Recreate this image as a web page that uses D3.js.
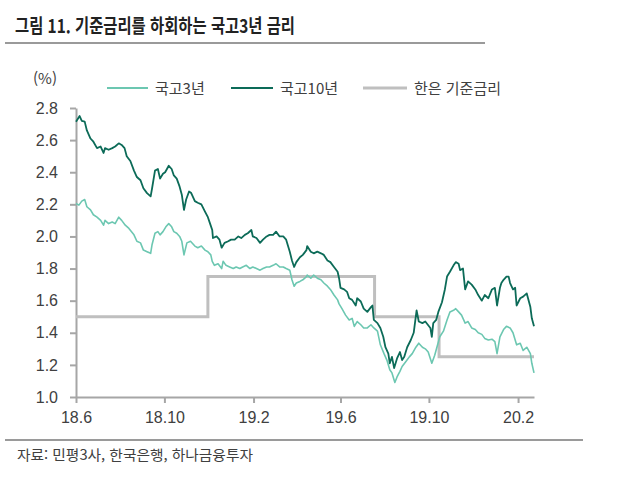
<!DOCTYPE html>
<html lang="ko">
<head>
<meta charset="UTF-8">
<script src="https://d3js.org/d3.v7.min.js"></script>
<style>
body { margin: 0; background: #fff; }
svg { font-family: "Noto Sans CJK KR", "Noto Sans", sans-serif; }
.axis path, .axis line { stroke: #a6a6a6; stroke-width: 2px; }
.axis text { fill: #404040; font-size: 16px; }
</style>
</head>
<body>
<svg width="630" height="477"></svg>
<script>
// 국고3년 (3Y KTB), %
const kt3 = [
  ["2018-06-01",2.205],["2018-06-05",2.195],["2018-06-09",2.22],["2018-06-13",2.23],["2018-06-16",2.185],
  ["2018-06-21",2.165],["2018-06-25",2.135],["2018-06-30",2.12],["2018-07-05",2.10],["2018-07-09",2.07],
  ["2018-07-11",2.10],["2018-07-16",2.08],["2018-07-21",2.09],["2018-07-25",2.08],["2018-07-30",2.12],
  ["2018-08-03",2.10],["2018-08-08",2.07],["2018-08-13",2.05],["2018-08-20",2.01],["2018-08-24",1.97],
  ["2018-08-29",1.96],["2018-09-02",1.915],["2018-09-07",1.905],["2018-09-12",1.895],["2018-09-14",1.95],
  ["2018-09-18",2.02],["2018-09-22",2.03],["2018-09-25",2.01],["2018-09-29",2.03],["2018-10-03",2.06],
  ["2018-10-07",2.08],["2018-10-11",2.06],["2018-10-14",2.03],["2018-10-18",2.02],["2018-10-22",2.00],
  ["2018-10-25",1.97],["2018-10-28",1.885],["2018-11-01",1.96],["2018-11-06",1.97],["2018-11-12",1.94],
  ["2018-11-16",1.93],["2018-11-21",1.94],["2018-11-26",1.915],["2018-11-30",1.905],["2018-12-04",1.885],
  ["2018-12-06",1.845],["2018-12-09",1.82],["2018-12-14",1.83],["2018-12-19",1.80],["2018-12-21",1.845],
  ["2018-12-25",1.82],["2018-12-30",1.81],["2019-01-04",1.80],["2019-01-08",1.81],["2019-01-13",1.80],
  ["2019-01-17",1.81],["2019-01-22",1.82],["2019-01-27",1.80],["2019-01-31",1.81],["2019-02-05",1.80],
  ["2019-02-10",1.79],["2019-02-14",1.80],["2019-02-19",1.81],["2019-02-23",1.81],["2019-02-28",1.82],
  ["2019-03-04",1.83],["2019-03-09",1.81],["2019-03-14",1.81],["2019-03-18",1.80],["2019-03-23",1.79],
  ["2019-03-26",1.73],["2019-03-29",1.69],["2019-04-01",1.71],["2019-04-06",1.72],["2019-04-10",1.73],
  ["2019-04-15",1.75],["2019-04-16",1.76],["2019-04-21",1.74],["2019-04-25",1.76],["2019-04-30",1.74],
  ["2019-05-05",1.73],["2019-05-09",1.71],["2019-05-14",1.69],["2019-05-18",1.67],["2019-05-23",1.635],
  ["2019-05-28",1.605],["2019-05-30",1.58],["2019-06-03",1.55],["2019-06-08",1.51],["2019-06-13",1.48],
  ["2019-06-17",1.49],["2019-06-20",1.44],["2019-06-24",1.47],["2019-06-29",1.45],["2019-07-03",1.43],
  ["2019-07-08",1.43],["2019-07-13",1.45],["2019-07-17",1.43],["2019-07-22",1.41],["2019-07-26",1.325],
  ["2019-07-31",1.27],["2019-08-04",1.23],["2019-08-08",1.17],["2019-08-11",1.15],["2019-08-15",1.09],
  ["2019-08-18",1.125],["2019-08-22",1.16],["2019-08-25",1.19],["2019-08-30",1.22],["2019-09-04",1.25],
  ["2019-09-08",1.27],["2019-09-13",1.31],["2019-09-17",1.335],["2019-09-22",1.31],["2019-09-26",1.30],
  ["2019-09-30",1.28],["2019-10-05",1.21],["2019-10-09",1.26],["2019-10-16",1.375],["2019-10-21",1.41],
  ["2019-10-26",1.48],["2019-10-30",1.53],["2019-11-04",1.54],["2019-11-07",1.55],["2019-11-11",1.53],
  ["2019-11-15",1.51],["2019-11-20",1.46],["2019-11-24",1.47],["2019-11-29",1.43],["2019-12-04",1.42],
  ["2019-12-08",1.40],["2019-12-13",1.39],["2019-12-17",1.365],["2019-12-22",1.355],["2019-12-27",1.36],
  ["2019-12-31",1.345],["2020-01-03",1.27],["2020-01-07",1.375],["2020-01-12",1.42],["2020-01-16",1.44],
  ["2020-01-21",1.43],["2020-01-25",1.40],["2020-01-30",1.325],["2020-02-04",1.335],["2020-02-08",1.29],
  ["2020-02-13",1.31],["2020-02-18",1.27],["2020-02-20",1.21],["2020-02-23",1.15]
];

// 국고10년 (10Y KTB), %
const kt10 = [
  ["2018-06-01",2.715],["2018-06-06",2.75],["2018-06-09",2.72],["2018-06-13",2.715],["2018-06-16",2.66],
  ["2018-06-21",2.61],["2018-06-25",2.59],["2018-06-30",2.55],["2018-07-05",2.56],["2018-07-09",2.52],
  ["2018-07-11",2.55],["2018-07-16",2.54],["2018-07-21",2.55],["2018-07-25",2.56],["2018-07-30",2.58],
  ["2018-08-03",2.57],["2018-08-07",2.55],["2018-08-10",2.50],["2018-08-15",2.47],["2018-08-20",2.41],
  ["2018-08-24",2.37],["2018-08-29",2.35],["2018-09-02",2.30],["2018-09-07",2.27],["2018-09-12",2.25],
  ["2018-09-14",2.30],["2018-09-18",2.41],["2018-09-22",2.42],["2018-09-25",2.36],["2018-09-29",2.39],
  ["2018-10-02",2.40],["2018-10-07",2.44],["2018-10-11",2.42],["2018-10-14",2.38],["2018-10-18",2.36],
  ["2018-10-22",2.31],["2018-10-25",2.26],["2018-10-28",2.165],["2018-10-31",2.23],["2018-11-04",2.28],
  ["2018-11-07",2.27],["2018-11-12",2.22],["2018-11-16",2.21],["2018-11-21",2.20],["2018-11-26",2.155],
  ["2018-11-30",2.12],["2018-12-03",2.08],["2018-12-06",2.04],["2018-12-07",1.99],["2018-12-12",2.00],
  ["2018-12-16",1.98],["2018-12-19",1.93],["2018-12-23",1.96],["2018-12-28",1.97],["2019-01-01",1.98],
  ["2019-01-06",1.98],["2019-01-11",2.00],["2019-01-15",1.99],["2019-01-20",2.01],["2019-01-24",2.02],
  ["2019-01-29",2.04],["2019-01-31",2.00],["2019-02-05",1.99],["2019-02-10",1.96],["2019-02-14",1.98],
  ["2019-02-19",2.00],["2019-02-23",2.01],["2019-02-28",2.01],["2019-03-04",2.03],["2019-03-09",2.00],
  ["2019-03-14",2.00],["2019-03-18",1.98],["2019-03-23",1.905],["2019-03-26",1.85],["2019-03-29",1.81],
  ["2019-04-01",1.84],["2019-04-06",1.87],["2019-04-10",1.885],["2019-04-15",1.915],["2019-04-16",1.94],
  ["2019-04-21",1.905],["2019-04-25",1.895],["2019-04-30",1.905],["2019-05-05",1.895],["2019-05-09",1.885],
  ["2019-05-14",1.85],["2019-05-18",1.84],["2019-05-23",1.81],["2019-05-28",1.78],["2019-05-30",1.74],
  ["2019-06-01",1.68],["2019-06-06",1.67],["2019-06-10",1.655],["2019-06-13",1.615],["2019-06-17",1.605],
  ["2019-06-22",1.57],["2019-06-24",1.615],["2019-06-29",1.595],["2019-07-03",1.55],["2019-07-08",1.53],
  ["2019-07-13",1.56],["2019-07-15",1.57],["2019-07-17",1.48],["2019-07-22",1.46],["2019-07-26",1.43],
  ["2019-07-30",1.375],["2019-08-02",1.31],["2019-08-06",1.27],["2019-08-08",1.21],["2019-08-11",1.25],
  ["2019-08-14",1.18],["2019-08-18",1.24],["2019-08-22",1.28],["2019-08-25",1.23],["2019-08-28",1.25],
  ["2019-09-01",1.31],["2019-09-06",1.355],["2019-09-10",1.40],["2019-09-14",1.54],["2019-09-17",1.47],
  ["2019-09-22",1.46],["2019-09-26",1.47],["2019-10-03",1.43],["2019-10-05",1.375],["2019-10-07",1.46],
  ["2019-10-11",1.48],["2019-10-14",1.53],["2019-10-19",1.59],["2019-10-23",1.67],["2019-10-26",1.75],
  ["2019-10-30",1.78],["2019-11-04",1.82],["2019-11-07",1.84],["2019-11-11",1.83],["2019-11-13",1.79],
  ["2019-11-17",1.80],["2019-11-20",1.67],["2019-11-24",1.72],["2019-11-29",1.70],["2019-12-04",1.67],
  ["2019-12-08",1.635],["2019-12-13",1.60],["2019-12-17",1.635],["2019-12-22",1.615],["2019-12-27",1.67],
  ["2019-12-31",1.68],["2020-01-03",1.57],["2020-01-07",1.68],["2020-01-09",1.71],["2020-01-12",1.73],
  ["2020-01-16",1.75],["2020-01-19",1.75],["2020-01-21",1.71],["2020-01-25",1.67],["2020-01-28",1.68],
  ["2020-01-30",1.57],["2020-02-04",1.615],["2020-02-08",1.625],["2020-02-13",1.645],["2020-02-18",1.56],
  ["2020-02-20",1.49],["2020-02-23",1.44]
];

// 한은 기준금리 (BOK base rate), step changes
const baseRate = [
  ["2018-06-01",1.50],["2018-11-30",1.75],["2019-07-18",1.50],["2019-10-15",1.25],["2020-02-23",1.25]
];

const yTicks = [1.0, 1.2, 1.4, 1.6, 1.8, 2.0, 2.2, 2.4, 2.6, 2.8];
const xTicks = ["2018-06-01","2018-10-01","2019-02-01","2019-06-01","2019-10-01","2020-02-01"];
const legendNames = ["국고3년", "국고10년", "한은 기준금리"];

const parse = d3.timeParse("%Y-%m-%d");
const svg = d3.select("svg");

const x = d3.scaleTime()
  .domain([parse("2018-06-01"), parse("2020-02-23")])
  .range([76, 534]);
const y = d3.scaleLinear().domain([1.0, 2.8]).range([397, 108]);

// title + rules
svg.append("text")
  .attr("x", 15).attr("y", 33)
  .attr("textLength", 280).attr("lengthAdjust", "spacingAndGlyphs")
  .style("font-size", "19px").style("font-weight", "bold").style("fill", "#222")
  .text("그림 11. 기준금리를 하회하는 국고3년 금리");
svg.append("line").attr("x1", 5).attr("x2", 485).attr("y1", 43).attr("y2", 43)
  .attr("stroke", "#9a9a9a").attr("stroke-width", 2);
svg.append("line").attr("x1", 5).attr("x2", 583).attr("y1", 440).attr("y2", 440)
  .attr("stroke", "#9a9a9a").attr("stroke-width", 2);
svg.append("text")
  .attr("x", 17).attr("y", 460)
  .attr("textLength", 236).attr("lengthAdjust", "spacingAndGlyphs")
  .style("font-size", "14px").style("fill", "#404040")
  .text("자료: 민평3사, 한국은행, 하나금융투자");

svg.append("text").attr("x", 33).attr("y", 84)
  .style("font-size", "15px").style("fill", "#404040").text("(%)");

// axes
svg.append("g").attr("class", "axis")
  .attr("transform", "translate(76,0)")
  .call(d3.axisLeft(y).tickValues(yTicks).tickFormat(d3.format(".1f"))
    .tickSize(6).tickSizeOuter(0).tickPadding(12));

svg.append("g").attr("class", "axis")
  .attr("transform", "translate(0,397)")
  .call(d3.axisBottom(x).tickValues(xTicks.map(parse))
    .tickFormat(d => `${d.getFullYear() % 100}.${d.getMonth() + 1}`)
    .tickSize(6).tickSizeOuter(0).tickPadding(9));

// lines
const line = d3.line().x(d => x(parse(d[0]))).y(d => y(d[1]));
const stepLine = d3.line().x(d => x(parse(d[0]))).y(d => y(d[1])).curve(d3.curveStepAfter);

svg.append("path").datum(baseRate).attr("d", stepLine)
  .attr("fill", "none").attr("stroke", "#bfbfbf").attr("stroke-width", 3);
svg.append("path").datum(kt3).attr("d", line)
  .attr("fill", "none").attr("stroke", "#6cc7b1").attr("stroke-width", 1.6)
  .attr("stroke-linejoin", "round");
svg.append("path").datum(kt10).attr("d", line)
  .attr("fill", "none").attr("stroke", "#0c6b58").attr("stroke-width", 1.8)
  .attr("stroke-linejoin", "round");

// legend
const legendItems = [
  { name: legendNames[0], color: "#6cc7b1", w: 1.8, x1: 107, x2: 148 },
  { name: legendNames[1], color: "#0c6b58", w: 2, x1: 231, x2: 273 },
  { name: legendNames[2], color: "#bfbfbf", w: 3, x1: 363, x2: 407 }
];
const lg = svg.append("g").selectAll("g").data(legendItems).enter().append("g");
lg.append("line")
  .attr("x1", d => d.x1).attr("x2", d => d.x2).attr("y1", 88).attr("y2", 88)
  .attr("stroke", d => d.color).attr("stroke-width", d => d.w);
lg.append("text")
  .attr("x", d => d.x2 + 7).attr("y", 93.5)
  .style("font-size", "15px").style("fill", "#404040")
  .text(d => d.name);
</script>
</body>
</html>
